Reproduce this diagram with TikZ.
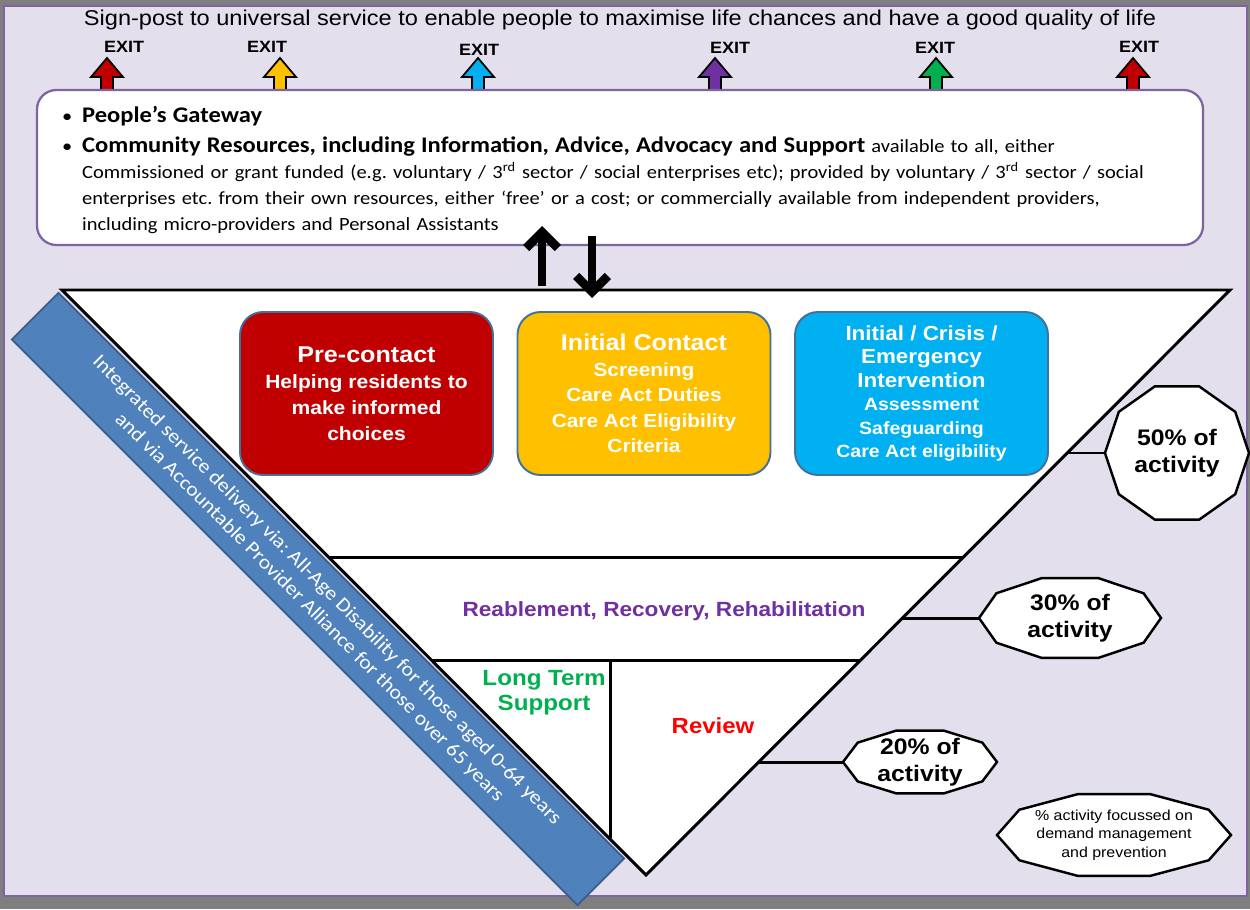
\documentclass[tikz,border=0pt]{standalone}
\usepackage{fontspec}
\setmainfont[FakeStretch=1.1]{Liberation Sans}
\newfontfamily\calibri[FakeStretch=1.1]{Carlito}
\usetikzlibrary{arrows.meta,calc}

\definecolor{lav}{HTML}{E4DFEC}
\definecolor{framecol}{HTML}{8064A2}
\definecolor{greybg}{HTML}{7F7F7F}
\definecolor{bandcol}{HTML}{4F81BD}
\definecolor{bandline}{HTML}{385D8A}
\definecolor{boxline}{HTML}{41719C}
\definecolor{precol}{HTML}{C00000}
\definecolor{initcol}{HTML}{FFC000}
\definecolor{crisiscol}{HTML}{00B0F0}
\definecolor{reabcol}{HTML}{7030A0}
\definecolor{ltscol}{HTML}{00B050}
\definecolor{revcol}{HTML}{FF0000}

\newcommand{\decagon}[3]{%
  \draw[deca] ([shift={(#1)}]0:#2 and #3)
    \foreach \ang in {36,72,...,324}{ -- ([shift={(#1)}]\ang:#2 and #3)} -- cycle;}

\begin{document}
\frenchspacing
\begin{tikzpicture}[x=0.02cm,y=-0.02cm,
    every node/.style={inner sep=0pt},
    edge/.style={black, line width=1.7pt},
    colbox/.style={draw=boxline, line width=1.1pt, rounded corners=13pt,
      minimum width=5.06cm, minimum height=3.26cm, text=white, align=center},
    deca/.style={draw=black, fill=white, line width=1.4pt},
    pct/.style={font=\bfseries\fontsize{12.8}{15.5}\selectfont, align=center},
    flow/.style={line width=5pt, -{Straight Barb[length=9pt,width=18pt]}},
    exitarrow/.style={draw=black, line width=1pt},
  ]
    \useasboundingbox (0,0) rectangle (1250,909);
    \fill[greybg] (0,0) rectangle (1250,909);
    \filldraw[fill=lav, draw=framecol, line width=1.3pt] (4,6) rectangle (1247,896);

    \node[font=\fontsize{12.2}{13}\selectfont] (title) at (620,20)
      {Sign-post to universal service to enable people to maximise life chances and have a good quality of life};

    \foreach \ax/\tx/\ty/\col [count=\i] in {107/124/47/precol, 280/267/47/initcol, 478/479/50/crisiscol,
        715/730/48/reabcol, 936/935/48/ltscol, 1133/1139/47/precol}{
      \node[font=\bfseries\fontsize{9.3}{10}\selectfont] (exit\i) at (\tx,\ty) {EXIT};
      \filldraw[exitarrow, fill=\col] (\ax,58) -- (\ax+16,77) -- (\ax+6,77) -- (\ax+6,92)
        -- (\ax-6,92) -- (\ax-6,77) -- (\ax-16,77) -- cycle;
    }

    \filldraw[fill=white, draw=framecol, line width=1.3pt, rounded corners=11pt] (37,90) rectangle (1203,245);
    \node[text width=22.32cm, align=left, font=\calibri\fontsize{10.6}{14.7}\selectfont] (gate) at (620,170) {%
      \makebox[0.4cm][l]{\textbullet}{\bfseries\fontsize{12.7}{14.7}\selectfont People’s Gateway}\\[2.5pt]
      \makebox[0.4cm][l]{\textbullet}{\bfseries\fontsize{12.7}{14.7}\selectfont Community Resources, including Information, Advice, Advocacy and Support} available to all, either\\
      \hspace*{0.4cm}Commissioned or grant funded (e.g. voluntary / 3\textsuperscript{rd} sector / social enterprises etc); provided by voluntary / 3\textsuperscript{rd} sector / social\\
      \hspace*{0.4cm}enterprises etc. from their own resources, either ‘free’ or a cost; or commercially available from independent providers,\\
      \hspace*{0.4cm}including micro-providers and Personal Assistants};

    \coordinate (tl) at (62,290);
    \coordinate (tr) at (1230,290);
    \coordinate (apex) at (646,875);
    \filldraw[edge, fill=white] (tl) -- (tr) -- (apex) -- cycle;
    \draw[edge] (329,557) -- (963,557);
    \draw[edge] (432,660) -- (860,660);
    \draw[edge] (610,660) -- (610,838);

    \coordinate (upfoot) at (542,286);
    \coordinate (uptip) at (542,226);
    \coordinate (downtop) at (592,236);
    \coordinate (downtip) at (592,298);
    \draw[flow] (upfoot) -- (uptip);
    \draw[flow] (downtop) -- (downtip);

    \node[colbox, fill=precol, font=\bfseries\fontsize{10.9}{14.7}\selectfont] (pre) at (366.5,393.5)
      {{\fontsize{13}{14.7}\selectfont Pre-contact}\\Helping residents to\\make informed\\choices};
    \node[colbox, fill=initcol, font=\bfseries\fontsize{10.8}{14.6}\selectfont] (init) at (644,393.5)
      {{\fontsize{13}{14.6}\selectfont Initial Contact}\\Screening\\Care Act Duties\\Care Act Eligibility\\Criteria};
    \node[colbox, fill=crisiscol, font=\bfseries\fontsize{10.1}{13.3}\selectfont] (crisis) at (921.5,393.5)
      {{\fontsize{11.6}{13.3}\selectfont Initial / Crisis /}\\{\fontsize{11.6}{13.3}\selectfont Emergency}\\{\fontsize{11.6}{13.3}\selectfont Intervention}\\Assessment\\Safeguarding\\Care Act eligibility};

    \node[text=reabcol, font=\bfseries\fontsize{11.7}{14}\selectfont] (reab) at (664,611)
      {Reablement, Recovery, Rehabilitation};
    \node[text=ltscol, align=center, font=\bfseries\fontsize{12.5}{14.2}\selectfont] (lts) at (544,693)
      {Long Term\\Support};
    \node[text=revcol, font=\bfseries\fontsize{12.4}{14}\selectfont] (review) at (713,726) {Review};

    \coordinate (c50) at (1177,453);
    \coordinate (c30) at (1070,618);
    \coordinate (c20) at (920,762);
    \coordinate (cnote) at (1114,835);
    \coordinate (e50) at (1067,453);
    \coordinate (e30) at (902,618);
    \coordinate (e20) at (758,762);
    \coordinate (v50) at ($(c50)+(-72,0)$);
    \coordinate (v30) at ($(c30)+(-91,0)$);
    \coordinate (v20) at ($(c20)+(-77,0)$);
    \draw[edge] (e50) -- (v50);
    \draw[edge] (e30) -- (v30);
    \draw[edge] (e20) -- (v20);
    \decagon{c50}{72}{70}
    \decagon{c30}{91}{42}
    \decagon{c20}{77}{33}
    \decagon{cnote}{117}{43}
    \node[pct] (p50) at (c50) {50\% of\\activity};
    \node[pct] (p30) at (c30) {30\% of\\activity};
    \node[pct] (p20) at (c20) {20\% of\\activity};
    \node[align=center, font=\fontsize{8.25}{10.5}\selectfont] (note) at (cnote)
      {\% activity focussed on\\demand management\\and prevention};

    \node[draw=bandline, fill=bandcol, line width=1pt, rotate=-45, minimum width=16cm,
      minimum height=1.32cm, text=white, align=center,
      font=\calibri\fontsize{11.3}{14}\selectfont] (band) at (318,599)
      {Integrated service delivery via: All-Age Disability for those aged 0-64 years\\
       and via Accountable Provider Alliance for those over 65 years};
\end{tikzpicture}
\end{document}
